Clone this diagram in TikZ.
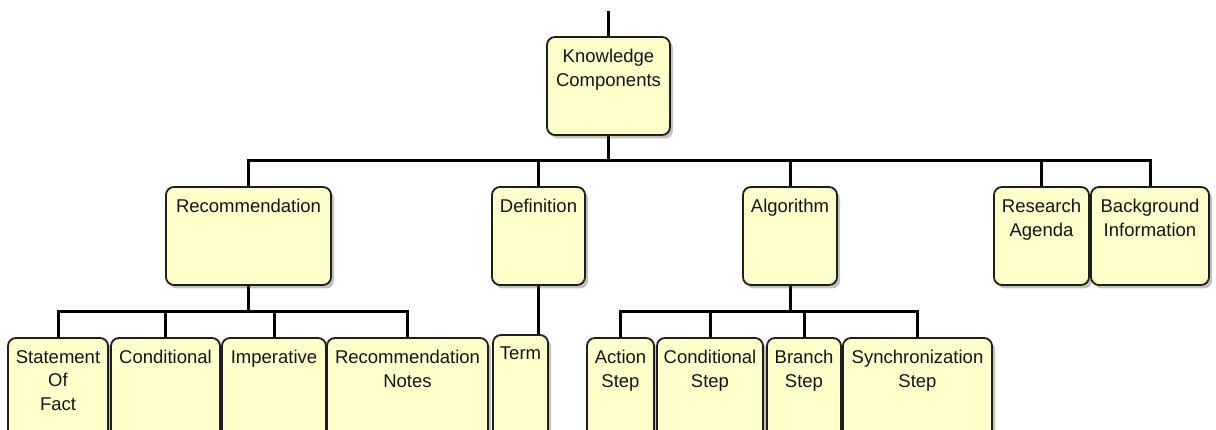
\documentclass[tikz,border=0pt]{standalone}
\usepackage{fontspec}
\setmainfont{Liberation Sans}
\usetikzlibrary{shadows,backgrounds,positioning}
\definecolor{boxfill}{HTML}{FFFFCC}
\definecolor{boxline}{HTML}{1E1E1E}
\definecolor{ink}{HTML}{151515}
\tikzset{
  kbox/.style={draw=boxline, line width=1.8pt, fill=boxfill, rounded corners=8pt,
    anchor=north, inner sep=0pt, outer sep=0pt,
    drop shadow={shadow xshift=3pt, shadow yshift=-3.5pt, opacity=0.35, fill=black!70}},
  lbl/.style={anchor=north, inner sep=0pt, align=center, text=ink,
    font=\fontsize{18.5}{23.5}\selectfont},
  wire/.style={draw=black, line width=3pt, line cap=rect}
}
\begin{document}
\begin{tikzpicture}[x=1pt,y=-1pt]
\clip (0,0) rectangle (1216,430);

% root
\node[kbox, minimum width=123pt, minimum height=98pt] (kc) at (608.5,37) {};
\node[lbl, below=12pt of kc.north] (kct) {Knowledge\\Components};

% first level
\node[kbox, minimum width=165pt, minimum height=98pt] (rec) at (248.5,187) {};
\node[kbox, minimum width=93pt,  minimum height=98pt] (def) at (538.5,187) {};
\node[kbox, minimum width=94pt,  minimum height=98pt] (alg) at (790,187) {};
\node[kbox, minimum width=95pt,  minimum height=98pt] (ra)  at (1041.5,187) {};
\node[kbox, minimum width=118pt, minimum height=98pt] (bi)  at (1150,187) {};
\node[lbl, below=12pt of rec.north] (rect) {Recommendation};
\node[lbl, below=12pt of def.north] (deft) {Definition};
\node[lbl, below=12pt of alg.north] (algt) {Algorithm};
\node[lbl, below=12pt of ra.north]  (rat)  {Research\\Agenda};
\node[lbl, below=12pt of bi.north]  (bit)  {Background\\Information};

% second level
\node[kbox, minimum width=100pt, minimum height=110pt] (sof)    at (58,338) {};
\node[kbox, minimum width=109pt, minimum height=110pt] (cond)   at (165.5,338) {};
\node[kbox, minimum width=104pt, minimum height=110pt] (imp)    at (274,338) {};
\node[kbox, minimum width=161pt, minimum height=110pt] (rnotes) at (407.5,338) {};
\node[kbox, minimum width=55pt,  minimum height=113pt] (term)   at (520.5,335) {};
\node[kbox, minimum width=67pt,  minimum height=110pt] (act)    at (620.5,338) {};
\node[kbox, minimum width=106pt, minimum height=110pt] (cstep)  at (710,338) {};
\node[kbox, minimum width=74pt,  minimum height=110pt] (branch) at (804,338) {};
\node[kbox, minimum width=149pt, minimum height=110pt] (sync)   at (917.5,338) {};
\node[lbl, below=12pt of sof.north]    (soft)    {Statement\\Of\\Fact};
\node[lbl, below=12pt of cond.north]   (condt)   {Conditional};
\node[lbl, below=12pt of imp.north]    (impt)    {Imperative};
\node[lbl, below=12pt of rnotes.north] (rnotest) {Recommendation\\Notes};
\node[lbl, below=12pt of term.north]   (termt)   {Term};
\node[lbl, below=12pt of act.north]    (actt)    {Action\\Step};
\node[lbl, below=12pt of cstep.north]  (cstept)  {Conditional\\Step};
\node[lbl, below=12pt of branch.north] (brancht) {Branch\\Step};
\node[lbl, below=12pt of sync.north]   (synct)   {Synchronization\\Step};

% bus points
\coordinate (stub)   at (608.5,13);
\coordinate (topbus) at (608.5,161);
\coordinate (recbus) at (248.5,312);
\coordinate (algbus) at (790,312);

\begin{scope}[on background layer]
  \draw[wire] (stub) -- (kc.north);
  \draw[wire] (kc.south) -- (topbus);
  \draw[wire] (rec.north) |- (topbus) -| (bi.north);
  \draw[wire] (def.north) -- (def.north |- topbus);
  \draw[wire] (alg.north) -- (alg.north |- topbus);
  \draw[wire] (ra.north)  -- (ra.north |- topbus);

  \draw[wire] (rec.south) -- (recbus);
  \draw[wire] (sof.north) |- (recbus) -| (rnotes.north);
  \draw[wire] (cond.north) -- (cond.north |- recbus);
  \draw[wire] (imp.north)  -- (imp.north |- recbus);

  \draw[wire] (def.south) -- (def.south |- term.north);

  \draw[wire] (alg.south) -- (algbus);
  \draw[wire] (act.north) |- (algbus) -| (sync.north);
  \draw[wire] (cstep.north)  -- (cstep.north |- algbus);
  \draw[wire] (branch.north) -- (branch.north |- algbus);
\end{scope}
\end{tikzpicture}
\end{document}
